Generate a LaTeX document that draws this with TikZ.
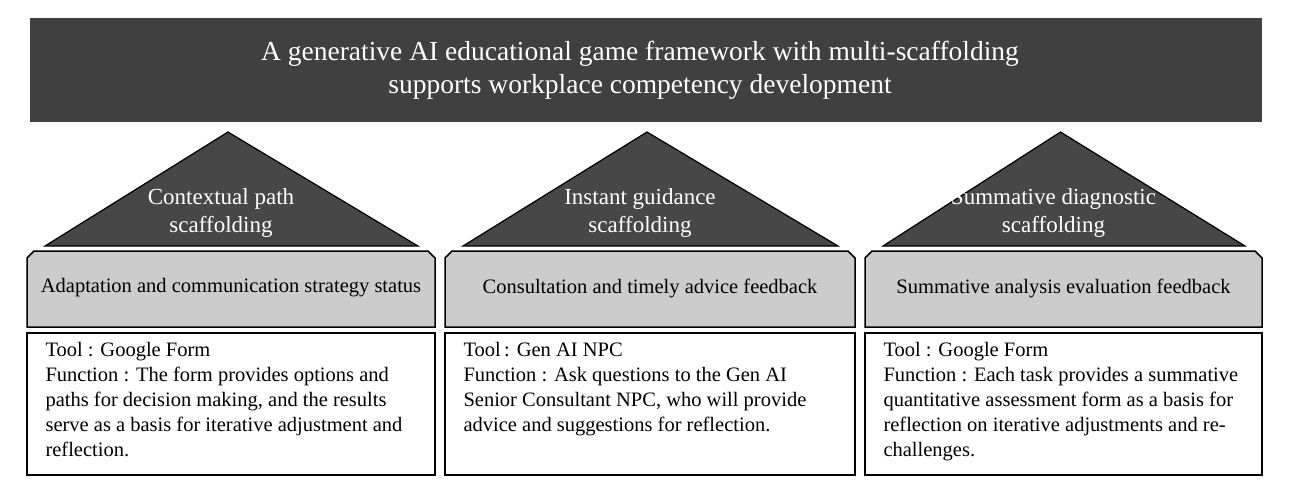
\documentclass[tikz,border=0pt]{standalone}
\usepackage{fontspec}
\setmainfont{Liberation Serif}
\begin{document}
\begin{tikzpicture}[x=1pt,y=-1pt,
 tri/.style={fill=black!72,draw=black,line width=1.2pt},
 lab/.style={fill=black!20,draw=black,line width=1.5pt},
 info/.style={draw=black,line width=1.5pt,fill=white}]
\useasboundingbox (0,0) rectangle (1291,483);
\fill[black!75] (30,18) rectangle (1262,122);
\node[text=white,font=\fontsize{27.5}{33}\selectfont,align=center] (title) at (640,70) {A generative AI educational game framework with multi-scaffolding\\supports workplace competency development};
\foreach \l/\r/\n/\t/\s/\a/\b in {27/435/1/{Contextual path\\scaffolding}/{Adaptation and communication strategy status}/{Tool : Google Form}/{Function : The form provides options and\\paths for decision making, and the results\\serve as a basis for iterative adjustment and\\reflection.},
 445/855/2/{Instant guidance\\scaffolding}/{Consultation and timely advice feedback}/{Tool\,: Gen AI NPC}/{Function : Ask questions to the Gen AI\\Senior Consultant NPC, who will provide\\advice and suggestions for reflection.},
 865/1262/3/{Summative diagnostic\\scaffolding}/{Summative analysis evaluation feedback}/{Tool : Google Form}/{Function : Each task provides a summative\\quantitative assessment form as a basis for\\reflection on iterative adjustments and re-\\challenges.}}{
 \pgfmathsetmacro\c{(\l+\r)/2}
 \draw[tri] (\c-3,132) -- (\l+18,246) -- (\r-17,246) -- cycle;
 \node[text=white,font=\fontsize{23}{28}\selectfont,align=center] (t\n) at (\c-10,213) {\t};
 \draw[lab] (\l,258) -- (\l+7,251) -- (\r-7,251) -- (\r,258) -- (\r,327) -- (\l,327) -- cycle;
 \node[font=\fontsize{20.5}{24}\selectfont] (s\n) at (\c,288) {\s};
 \draw[info] (\l,333) rectangle (\r,475);
 \node[font=\fontsize{20.5}{25}\selectfont,align=left,anchor=north west] (b\n) at (\l+15,339) {\a\\\b};
}
\end{tikzpicture}
\end{document}
